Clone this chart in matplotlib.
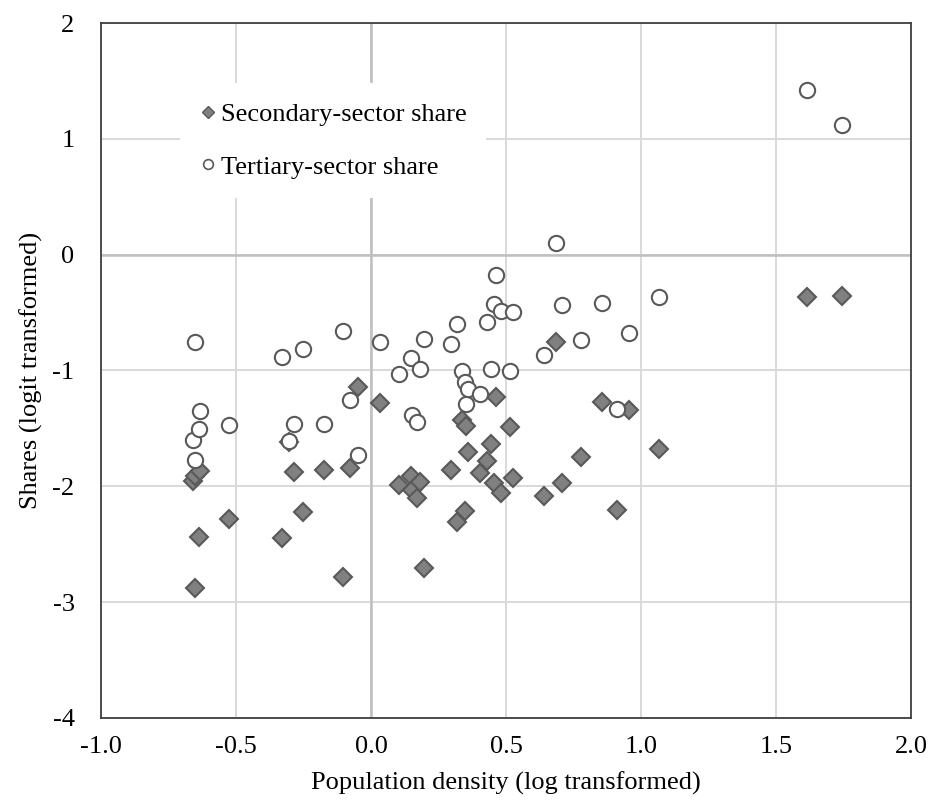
import matplotlib
matplotlib.use("Agg")
import matplotlib.pyplot as plt
from matplotlib.lines import Line2D

plt.rcParams['font.family'] = ['Liberation Serif', 'DejaVu Serif']

# Data
density = [-0.659, -0.652, -0.652, -0.637, -0.632, -0.525, -0.330, -0.303, -0.284, -0.251,
           -0.173, -0.103, -0.078, -0.050, 0.033, 0.105, 0.148, 0.150, 0.172, 0.180,
           0.196, 0.297, 0.320, 0.338, 0.348, 0.350, 0.360, 0.404, 0.431, 0.444,
           0.457, 0.462, 0.480, 0.515, 0.527, 0.642, 0.686, 0.707, 0.778, 0.856,
           0.911, 0.956, 1.067, 1.615, 1.744]
tertiary = [-1.600, -0.754, -1.773, -1.503, -1.347, -1.474, -0.884, -1.606, -1.465, -0.815,
            -1.462, -0.662, -1.252, -1.727, -0.754, -1.028, -0.892, -1.382, -1.445, -0.987,
            -0.728, -0.771, -0.599, -1.008, -1.102, -1.290, -1.160, -1.203, -0.581, -0.987,
            -0.423, -0.173, -0.490, -1.002, -0.498, -0.866, 0.101, -0.435, -0.734, -0.417,
            -1.333, -0.676, -0.365, 1.419, 1.120]
secondary = [-1.954, -1.910, -2.876, -2.438, -1.868, -2.280, -2.447, -1.620, -1.877, -2.225,
             -1.857, -2.780, -1.845, -1.143, -1.281, -1.986, -1.914, -2.035, -2.098, -1.963,
             -2.703, -1.857, -2.309, -1.431, -2.216, -1.482, -1.701, -1.888, -1.782, -1.632,
             -1.972, -1.226, -2.058, -1.485, -1.929, -2.087, -0.751, -1.972, -1.744, -1.269,
             -2.200, -1.338, -1.675, -0.365, -0.360]

xticks = [-1.0, -0.5, 0.0, 0.5, 1.0, 1.5, 2.0]
xticklabels = ["-1.0", "-0.5", "0.0", "0.5", "1.0", "1.5", "2.0"]
yticks = [-4, -3, -2, -1, 0, 1, 2]
yticklabels = ["-4", "-3", "-2", "-1", "0", "1", "2"]

fig = plt.figure(figsize=(9.34, 8.11), dpi=100)
ax = fig.add_axes([101/934, 1 - 718/811, 810/934, 695/811])

ax.set_xlim(-1.0, 2.0)
ax.set_ylim(-4, 2)
ax.set_xticks(xticks)
ax.set_xticklabels(xticklabels)
ax.set_yticks(yticks)
ax.set_yticklabels(yticklabels)
ax.tick_params(axis='both', length=0, labelsize=19, colors='black')
ax.tick_params(axis='y', pad=19)
ax.tick_params(axis='x', pad=13)

ax.grid(True, color='#d9d9d9', linewidth=1.4, zorder=0)
ax.set_axisbelow(True)
ax.axhline(0, color='#bfbfbf', linewidth=1.8, zorder=1)
ax.axvline(0, color='#bfbfbf', linewidth=1.8, zorder=1)

for s in ax.spines.values():
    s.set_color('#404040')
    s.set_linewidth(1.3)

ax.plot(density, secondary, linestyle='none', marker='D', markersize=9.5,
        markerfacecolor='#808080', markeredgecolor='#595959', markeredgewidth=1.5,
        zorder=3, label='Secondary-sector share')
ax.plot(density, tertiary, linestyle='none', marker='o', markersize=11,
        markerfacecolor='white', markeredgecolor='#595959', markeredgewidth=1.5,
        zorder=3, label='Tertiary-sector share')

handles = [
    Line2D([], [], linestyle='none', marker='D', markersize=6,
           markerfacecolor='#808080', markeredgecolor='#595959', markeredgewidth=1.0),
    Line2D([], [], linestyle='none', marker='o', markersize=7,
           markerfacecolor='white', markeredgecolor='#595959', markeredgewidth=1.2),
]
leg = ax.legend(handles, ['Secondary-sector share', 'Tertiary-sector share'],
                loc='upper left', bbox_to_anchor=(0.0975, 0.914), fontsize=19,
                frameon=True, facecolor='white', edgecolor='none', framealpha=1,
                fancybox=False, handlelength=0.6, handletextpad=0.2,
                labelspacing=1.1, borderpad=0.75, borderaxespad=0)
leg.set_zorder(2)

ax.set_xlabel('Population density (log transformed)', fontsize=19, labelpad=10)
ax.set_ylabel('Shares (logit transformed)', fontsize=19, labelpad=7)

fig.savefig('out.png', dpi=100)
